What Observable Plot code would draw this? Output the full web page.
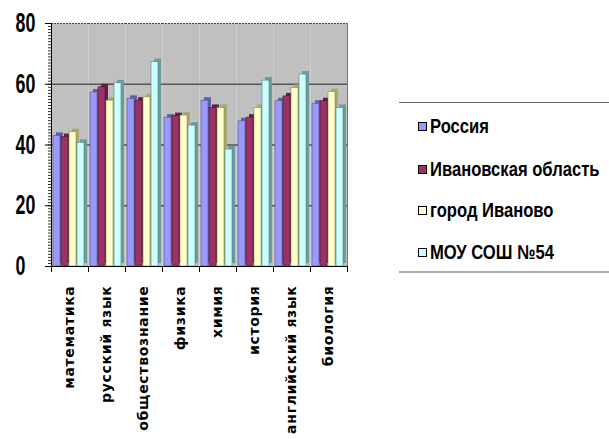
<!DOCTYPE html>
<html><head><meta charset="utf-8">
<script src="https://cdn.jsdelivr.net/npm/d3@7"></script>
<script src="https://cdn.jsdelivr.net/npm/@observablehq/plot@0.6"></script>
<style>
body{margin:0;background:#fff;}
#wrap{position:relative;width:609px;height:439px;overflow:hidden;}
#legend{position:absolute;left:399px;top:102px;width:210px;height:168px;border-top:1px solid #666;border-bottom:2px solid #aaa;font-family:"Liberation Sans",Arial,sans-serif;font-weight:bold;font-size:20px;color:#000;}
.item{position:absolute;left:19px;display:flex;align-items:center;white-space:nowrap;}
.sw{width:7px;height:7px;border:1px solid #000;margin-right:3px;flex:none;}
.lt{display:inline-block;transform:scaleX(0.83);transform-origin:left center;}
</style>
</head><body>
<div id="wrap"></div>
<script>
const subjects = ["математика","русский язык","обществознание","физика","химия","история","английский язык","биология"];
const series = ["Россия","Ивановская область","город Иваново","МОУ СОШ №54"];
const russia   = [43, 57.3, 55.2, 49, 54.6, 47.8, 54.4, 53.6];
const region   = [42.6, 59, 54.6, 49.5, 52.2, 49, 56, 54.4];
const city     = [44.2, 54.6, 55.7, 49.7, 52.2, 52.2, 58.8, 57.4];
const school   = [40.7, 60.3, 67.3, 46.4, 38.5, 61.2, 63.2, 52.2];
const yTicks = [0, 20, 40, 60, 80];
const fills = ["#9999ff","#993366","#ffffcc","#ccffff"];
const sides = ["#6060a8","#5e1f40","#a8a870","#6c9c9c"];
const strokes = ["#555588","#4a1832","#888855","#558080"];

const valuesBySeries = [russia, region, city, school];
const data = [];
series.forEach((s, i) => subjects.forEach((subj, j) => data.push({subject: subj, series: s, value: valuesBySeries[i][j]})));

const barMarks = [];
series.forEach((s, i) => {
  const rows = data.filter(d => d.series === s);
  barMarks.push(Plot.barY(rows, {fx: "subject", x: "series", y: "value", fill: sides[i], dx: 3, dy: -3}));
});
series.forEach((s, i) => {
  const rows = data.filter(d => d.series === s);
  barMarks.push(Plot.barY(rows, {fx: "subject", x: "series", y: "value", fill: fills[i], stroke: strokes[i], strokeWidth: 0.6}));
});

const chart = Plot.plot({
  width: 609, height: 439,
  marginLeft: 48, marginRight: 259, marginTop: 23, marginBottom: 173,
  style: {background: "transparent", fontFamily: "'Liberation Sans',Arial,sans-serif"},
  fx: {domain: subjects, padding: 0, label: null},
  x: {domain: series, paddingInner: 0.1, paddingOuter: 0.3, align: 0.3, axis: null},
  y: {domain: [0, 80], label: null},
  marks: [
    Plot.frame({fill: "#c0c0c0"}),
    Plot.ruleY([20, 40, 60], {stroke: "#555", strokeWidth: 1.6}),
    Plot.ruleY([80], {stroke: "#444", strokeDasharray: "2,1", strokeWidth: 1.2}),
    ...barMarks,
    Plot.ruleY([0], {stroke: "#000", strokeWidth: 1}),
    Plot.frame({anchor: "right", facetAnchor: "right", stroke: "#777", strokeDasharray: "1,1"}),
    Plot.frame({anchor: "left", facetAnchor: "left", stroke: "#000", strokeWidth: 1}),
    Plot.frame({anchor: "left", insetTop: 243, insetBottom: -5, stroke: "#000"}),
    Plot.frame({anchor: "right", facetAnchor: "right", insetTop: 243, insetBottom: -5, stroke: "#000"}),
    Plot.axisY({ticks: d3.range(0, 81, 1), tickSize: 3, text: null, stroke: "#333"}),
    Plot.axisY({ticks: yTicks, tickSize: 6, tickPadding: 30, textAnchor: "start", fontSize: 27, fontWeight: "bold", fill: "#000", label: null}),
    Plot.axisFx({anchor: "bottom", tickRotate: -90, tickSize: 0, tickPadding: 19, fontSize: 14, fontWeight: "bold", label: null, fill: "#000"})
  ]
});
const wrap = document.getElementById("wrap");
wrap.appendChild(chart);
// condense the y tick labels horizontally
d3.select(chart).selectAll("g[aria-label='y-axis tick label'] text").each(function() {
  const t = this.getAttribute("transform") || "";
  this.setAttribute("transform", t + " scale(0.66,1)");
});
d3.select(chart).selectAll("g[aria-label='fx-axis tick label']")
  .style("letter-spacing", "0.7px").style("font-family", "'DejaVu Sans',sans-serif").style("font-weight", "bold");

const legend = document.createElement("div");
legend.id = "legend";
const tops = [12, 55, 96, 138];
series.forEach((s, i) => {
  const it = document.createElement("div");
  it.className = "item";
  it.style.top = tops[i] + "px";
  const sw = document.createElement("span");
  sw.className = "sw";
  sw.style.background = fills[i];
  const t = document.createElement("span");
  t.className = "lt";
  t.textContent = s;
  it.appendChild(sw); it.appendChild(t);
  legend.appendChild(it);
});
wrap.appendChild(legend);
</script>
</body></html>
